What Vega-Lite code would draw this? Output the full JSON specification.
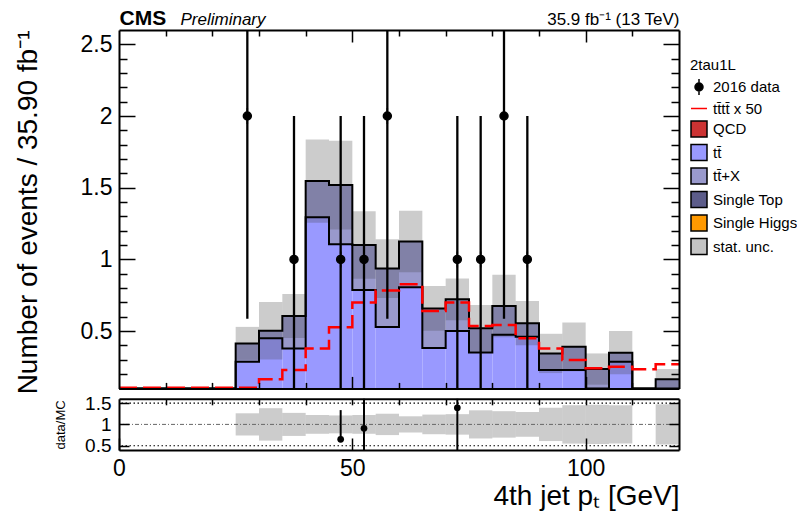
{
  "$schema": "https://vega.github.io/schema/vega-lite/v6.json",
  "width": 560,
  "height": 420,
  "autosize": {"type": "none"},
  "padding": {"left": 119, "top": 30, "right": 118, "bottom": 65},
  "background": "white",
  "config": {
    "view": {"stroke": null},
    "font": "Liberation Sans",
    "axis": {"grid": false, "domainColor": "#000000", "domainWidth": 2, "tickColor": "#000000", "tickWidth": 1.5, "labelColor": "#000000", "titleColor": "#000000", "labelFont": "Liberation Sans", "titleFont": "Liberation Sans", "titleFontWeight": "normal", "zindex": 1, "labelFlush": false}
  },
  "datasets": {
    "bkg": [
      {"lo": 25, "hi": 30, "series": "tt\u0304", "b": 0, "t": 0.286}, {"lo": 25, "hi": 30, "series": "tt\u0304+X", "b": 0.286, "t": 0.414},
      {"lo": 30, "hi": 35, "series": "tt\u0304", "b": 0, "t": 0.449}, {"lo": 30, "hi": 35, "series": "tt\u0304+X", "b": 0.449, "t": 0.502},
      {"lo": 35, "hi": 40, "series": "tt\u0304", "b": 0, "t": 0.379}, {"lo": 35, "hi": 40, "series": "tt\u0304+X", "b": 0.379, "t": 0.605},
      {"lo": 40, "hi": 45, "series": "tt\u0304", "b": 0, "t": 1.293}, {"lo": 40, "hi": 45, "series": "tt\u0304+X", "b": 1.293, "t": 1.546},
      {"lo": 45, "hi": 50, "series": "tt\u0304", "b": 0, "t": 1.106}, {"lo": 45, "hi": 50, "series": "tt\u0304+X", "b": 1.106, "t": 1.518},
      {"lo": 50, "hi": 55, "series": "tt\u0304", "b": 0, "t": 0.786}, {"lo": 50, "hi": 55, "series": "tt\u0304+X", "b": 0.786, "t": 1.100},
      {"lo": 55, "hi": 60, "series": "tt\u0304", "b": 0, "t": 0.528}, {"lo": 55, "hi": 60, "series": "tt\u0304+X", "b": 0.528, "t": 0.936},
      {"lo": 60, "hi": 65, "series": "tt\u0304", "b": 0, "t": 0.805}, {"lo": 60, "hi": 65, "series": "tt\u0304+X", "b": 0.805, "t": 1.125},
      {"lo": 65, "hi": 70, "series": "tt\u0304", "b": 0, "t": 0.382}, {"lo": 65, "hi": 70, "series": "tt\u0304+X", "b": 0.382, "t": 0.658},
      {"lo": 70, "hi": 75, "series": "tt\u0304", "b": 0, "t": 0.500}, {"lo": 70, "hi": 75, "series": "tt\u0304+X", "b": 0.500, "t": 0.721},
      {"lo": 75, "hi": 80, "series": "tt\u0304", "b": 0, "t": 0.351}, {"lo": 75, "hi": 80, "series": "tt\u0304+X", "b": 0.351, "t": 0.519},
      {"lo": 80, "hi": 85, "series": "tt\u0304", "b": 0, "t": 0.475}, {"lo": 80, "hi": 85, "series": "tt\u0304+X", "b": 0.475, "t": 0.674},
      {"lo": 85, "hi": 90, "series": "tt\u0304", "b": 0, "t": 0.460}, {"lo": 85, "hi": 90, "series": "tt\u0304+X", "b": 0.460, "t": 0.555},
      {"lo": 90, "hi": 95, "series": "tt\u0304", "b": 0, "t": 0.228}, {"lo": 90, "hi": 95, "series": "tt\u0304+X", "b": 0.228, "t": 0.344},
      {"lo": 95, "hi": 100, "series": "tt\u0304", "b": 0, "t": 0.228}, {"lo": 95, "hi": 100, "series": "tt\u0304+X", "b": 0.228, "t": 0.390},
      {"lo": 100, "hi": 105, "series": "tt\u0304+X", "b": 0, "t": 0.235},
      {"lo": 105, "hi": 110, "series": "tt\u0304", "b": 0, "t": 0.286}, {"lo": 105, "hi": 110, "series": "tt\u0304+X", "b": 0.286, "t": 0.349},
      {"lo": 115, "hi": 120, "series": "tt\u0304+X", "b": 0, "t": 0.163}
    ],
    "steps": [
      {"x": 0, "tt": 0, "tot": 0}, {"x": 5, "tt": 0, "tot": 0}, {"x": 10, "tt": 0, "tot": 0}, {"x": 15, "tt": 0, "tot": 0}, {"x": 20, "tt": 0, "tot": 0},
      {"x": 25, "tt": 0.286, "tot": 0.414}, {"x": 30, "tt": 0.449, "tot": 0.502}, {"x": 35, "tt": 0.379, "tot": 0.605},
      {"x": 40, "tt": 1.293, "tot": 1.546}, {"x": 45, "tt": 1.106, "tot": 1.518}, {"x": 50, "tt": 0.786, "tot": 1.100},
      {"x": 55, "tt": 0.528, "tot": 0.936}, {"x": 60, "tt": 0.805, "tot": 1.125}, {"x": 65, "tt": 0.382, "tot": 0.658},
      {"x": 70, "tt": 0.500, "tot": 0.721}, {"x": 75, "tt": 0.351, "tot": 0.519}, {"x": 80, "tt": 0.475, "tot": 0.674},
      {"x": 85, "tt": 0.460, "tot": 0.555}, {"x": 90, "tt": 0.228, "tot": 0.344}, {"x": 95, "tt": 0.228, "tot": 0.390},
      {"x": 100, "tt": 0, "tot": 0.235}, {"x": 105, "tt": 0.286, "tot": 0.349}, {"x": 110, "tt": 0, "tot": 0},
      {"x": 115, "tt": 0, "tot": 0.163}, {"x": 120, "tt": 0, "tot": 0.163}
    ],
    "sig": [
      {"x": 0, "s": 0.105}, {"x": 5, "s": 0.105}, {"x": 10, "s": 0.105}, {"x": 15, "s": 0.105}, {"x": 20, "s": 0.105},
      {"x": 25, "s": 0.105}, {"x": 30, "s": 0.163}, {"x": 35, "s": 0.228}, {"x": 40, "s": 0.379}, {"x": 45, "s": 0.526},
      {"x": 50, "s": 0.700}, {"x": 55, "s": 0.783}, {"x": 60, "s": 0.826}, {"x": 65, "s": 0.640}, {"x": 70, "s": 0.700},
      {"x": 75, "s": 0.535}, {"x": 80, "s": 0.542}, {"x": 85, "s": 0.449}, {"x": 90, "s": 0.379}, {"x": 95, "s": 0.298},
      {"x": 100, "s": 0.240}, {"x": 105, "s": 0.251}, {"x": 110, "s": 0.233}, {"x": 115, "s": 0.268}, {"x": 120, "s": 0.268}
    ],
    "unc": [
      {"lo": 25, "hi": 30, "ulo": 0.299, "uhi": 0.529, "rlo": 0.74, "rhi": 1.26},
      {"lo": 30, "hi": 35, "ulo": 0.302, "uhi": 0.702, "rlo": 0.62, "rhi": 1.38},
      {"lo": 35, "hi": 40, "ulo": 0.452, "uhi": 0.758, "rlo": 0.73, "rhi": 1.27},
      {"lo": 40, "hi": 45, "ulo": 1.256, "uhi": 1.836, "rlo": 0.78, "rhi": 1.22},
      {"lo": 45, "hi": 50, "ulo": 1.208, "uhi": 1.828, "rlo": 0.79, "rhi": 1.21},
      {"lo": 50, "hi": 55, "ulo": 0.865, "uhi": 1.335, "rlo": 0.78, "rhi": 1.22},
      {"lo": 55, "hi": 60, "ulo": 0.731, "uhi": 1.141, "rlo": 0.75, "rhi": 1.25},
      {"lo": 60, "hi": 65, "ulo": 0.910, "uhi": 1.340, "rlo": 0.81, "rhi": 1.19},
      {"lo": 65, "hi": 70, "ulo": 0.502, "uhi": 0.814, "rlo": 0.77, "rhi": 1.23},
      {"lo": 70, "hi": 75, "ulo": 0.575, "uhi": 0.867, "rlo": 0.76, "rhi": 1.24},
      {"lo": 75, "hi": 80, "ulo": 0.357, "uhi": 0.681, "rlo": 0.67, "rhi": 1.33},
      {"lo": 80, "hi": 85, "ulo": 0.456, "uhi": 0.892, "rlo": 0.69, "rhi": 1.31},
      {"lo": 85, "hi": 90, "ulo": 0.401, "uhi": 0.709, "rlo": 0.71, "rhi": 1.29},
      {"lo": 90, "hi": 95, "ulo": 0.207, "uhi": 0.481, "rlo": 0.61, "rhi": 1.39},
      {"lo": 95, "hi": 100, "ulo": 0.220, "uhi": 0.560, "rlo": 0.55, "rhi": 1.45},
      {"lo": 100, "hi": 105, "ulo": 0.126, "uhi": 0.344, "rlo": 0.54, "rhi": 1.46},
      {"lo": 105, "hi": 110, "ulo": 0.198, "uhi": 0.500, "rlo": 0.55, "rhi": 1.45},
      {"lo": 115, "hi": 120, "ulo": 0.091, "uhi": 0.235, "rlo": 0.53, "rhi": 1.47}
    ],
    "obs": [
      {"x": 27.5, "n": 2, "lo": 0.586, "hi": 3.414, "series": "2016 data"},
      {"x": 37.5, "n": 1, "lo": 0, "hi": 2, "series": "2016 data"},
      {"x": 47.5, "n": 1, "lo": 0, "hi": 2, "series": "2016 data"},
      {"x": 52.5, "n": 1, "lo": 0, "hi": 2, "series": "2016 data"},
      {"x": 57.5, "n": 2, "lo": 0.586, "hi": 3.414, "series": "2016 data"},
      {"x": 72.5, "n": 1, "lo": 0, "hi": 2, "series": "2016 data"},
      {"x": 77.5, "n": 1, "lo": 0, "hi": 2, "series": "2016 data"},
      {"x": 82.5, "n": 2, "lo": 0.586, "hi": 3.414, "series": "2016 data"},
      {"x": 87.5, "n": 1, "lo": 0, "hi": 2, "series": "2016 data"}
    ],
    "rat": [
      {"x": 47.5, "r": 0.65, "lo": 0.65, "hi": 1.335},
      {"x": 52.5, "r": 0.91, "lo": 0, "hi": 1.82},
      {"x": 72.5, "r": 1.39, "lo": 0, "hi": 2.78}
    ],
    "dummy": [{"x": 60, "y": 1}]
  },
  "layer": [
    {
      "layer": [
        {
          "data": {"name": "bkg"},
          "mark": {"type": "rect"},
          "encoding": {
            "x": {"field": "lo", "type": "quantitative", "scale": {"domain": [0, 120], "nice": false, "zero": false},
                  "axis": {"orient": "bottom", "offset": -61.6, "values": [50, 100], "tickSize": -12, "labels": false, "title": null, "zindex": 1}},
            "x2": {"field": "hi"},
            "y": {"field": "b", "type": "quantitative",
                  "scale": {"domain": [0.1, 2.6], "range": [358.4, 0], "nice": false, "zero": false, "clamp": true},
                  "axis": {"orient": "left", "values": [0.5, 1, 1.5, 2, 2.5], "format": "~g", "tickSize": -16, "labelFontSize": 23, "labelPadding": 23,
                           "title": "Number of events / 35.90 fb\u207b\u00b9", "titleFontSize": 28, "titleAngle": -90, "titleAlign": "right", "titleBaseline": "alphabetic", "titleX": -83, "titleY": 0, "zindex": 1}},
            "y2": {"field": "t"},
            "fill": {"field": "series", "type": "nominal",
                     "scale": {"domain": ["2016 data", "tt\u0304tt\u0304 x 50", "QCD", "tt\u0304", "tt\u0304+X", "Single Top", "Single Higgs", "stat. unc."],
                               "range": ["#000000", "#ff0000", "#cc3333", "#9999ff", "#9999cc", "#5c5c8a", "#ff9900", "#c4c4c4"]},
                     "legend": {"title": "2tau1L", "orient": "none", "legendX": 571, "legendY": 28, "titleFontSize": 15, "titleFontWeight": "normal", "titleColor": "#000000", "titleFont": "Liberation Sans", "labelFontSize": 15, "labelColor": "#000000", "labelFont": "Liberation Sans", "symbolSize": 256, "symbolStrokeWidth": 1.5, "rowPadding": 1.5, "titlePadding": 5, "labelOffset": 5, "padding": 0}}
          }
        },
        {
          "data": {"name": "unc"},
          "mark": {"type": "rect", "color": "#444444", "fillOpacity": 0.27},
          "encoding": {
            "x": {"field": "lo", "type": "quantitative", "scale": {"domain": [0, 120], "nice": false, "zero": false}},
            "x2": {"field": "hi"},
            "y": {"field": "ulo", "type": "quantitative", "scale": {"domain": [0.1, 2.6], "range": [358.4, 0], "nice": false, "zero": false, "clamp": true}},
            "y2": {"field": "uhi"}
          }
        },
        {
          "data": {"name": "steps"},
          "mark": {"type": "line", "interpolate": "step-after", "color": "#000000", "strokeWidth": 2},
          "encoding": {
            "x": {"field": "x", "type": "quantitative", "scale": {"domain": [0, 120], "nice": false, "zero": false}},
            "y": {"field": "tt", "type": "quantitative", "scale": {"domain": [0.1, 2.6], "range": [358.4, 0], "nice": false, "zero": false, "clamp": true}}
          }
        },
        {
          "data": {"name": "steps"},
          "mark": {"type": "line", "interpolate": "step-after", "color": "#000000", "strokeWidth": 2},
          "encoding": {
            "x": {"field": "x", "type": "quantitative", "scale": {"domain": [0, 120], "nice": false, "zero": false}},
            "y": {"field": "tot", "type": "quantitative", "scale": {"domain": [0.1, 2.6], "range": [358.4, 0], "nice": false, "zero": false, "clamp": true}}
          }
        },
        {
          "data": {"name": "sig"},
          "mark": {"type": "line", "interpolate": "step-after", "color": "#ff0000", "strokeWidth": 2.5, "strokeDash": [18, 6]},
          "encoding": {
            "x": {"field": "x", "type": "quantitative", "scale": {"domain": [0, 120], "nice": false, "zero": false}},
            "y": {"field": "s", "type": "quantitative", "scale": {"domain": [0.1, 2.6], "range": [358.4, 0], "nice": false, "zero": false, "clamp": true}}
          }
        },
        {
          "data": {"name": "obs"},
          "mark": {"type": "rule", "color": "#000000", "strokeWidth": 2.3},
          "encoding": {
            "x": {"field": "x", "type": "quantitative", "scale": {"domain": [0, 120], "nice": false, "zero": false}},
            "y": {"field": "lo", "type": "quantitative", "scale": {"domain": [0.1, 2.6], "range": [358.4, 0], "nice": false, "zero": false, "clamp": true}},
            "y2": {"field": "hi"}
          }
        },
        {
          "data": {"name": "obs"},
          "mark": {"type": "point", "filled": true, "size": 256, "strokeWidth": 1.5, "opacity": 1},
          "encoding": {
            "x": {"field": "x", "type": "quantitative", "scale": {"domain": [0, 120], "nice": false, "zero": false}},
            "y": {"field": "n", "type": "quantitative", "scale": {"domain": [0.1, 2.6], "range": [358.4, 0], "nice": false, "zero": false, "clamp": true}},
            "fill": {"field": "series", "type": "nominal",
                     "scale": {"domain": ["2016 data", "tt\u0304tt\u0304 x 50", "QCD", "tt\u0304", "tt\u0304+X", "Single Top", "Single Higgs", "stat. unc."],
                               "range": ["#000000", "#ff0000", "#cc3333", "#9999ff", "#9999cc", "#5c5c8a", "#ff9900", "#c4c4c4"]},
                     "legend": {"title": "2tau1L", "orient": "none", "legendX": 571, "legendY": 28, "titleFontSize": 15, "titleFontWeight": "normal", "titleColor": "#000000", "titleFont": "Liberation Sans", "labelFontSize": 15, "labelColor": "#000000", "labelFont": "Liberation Sans", "symbolSize": 256, "symbolStrokeWidth": 1.5, "rowPadding": 1.5, "titlePadding": 5, "labelOffset": 5, "padding": 0}},
            "stroke": {"field": "series", "type": "nominal",
                       "scale": {"domain": ["2016 data", "tt\u0304tt\u0304 x 50", "QCD", "tt\u0304", "tt\u0304+X", "Single Top", "Single Higgs", "stat. unc."],
                                 "range": ["#000000", "#ff0000", "#000000", "#000000", "#000000", "#000000", "#000000", "#000000"]},
                       "legend": {"title": "2tau1L", "orient": "none", "legendX": 571, "legendY": 28, "titleFontSize": 15, "titleFontWeight": "normal", "titleColor": "#000000", "titleFont": "Liberation Sans", "labelFontSize": 15, "labelColor": "#000000", "labelFont": "Liberation Sans", "symbolSize": 256, "symbolStrokeWidth": 1.5, "rowPadding": 1.5, "titlePadding": 5, "labelOffset": 5, "padding": 0}},
            "shape": {"field": "series", "type": "nominal",
                      "scale": {"domain": ["2016 data", "tt\u0304tt\u0304 x 50", "QCD", "tt\u0304", "tt\u0304+X", "Single Top", "Single Higgs", "stat. unc."],
                                "range": ["M0,-1L0,1M-0.5,0A0.5,0.5 0 1,0 0.5,0A0.5,0.5 0 1,0 -0.5,0Z", "stroke", "square", "square", "square", "square", "square", "square"]},
                      "legend": {"title": "2tau1L", "orient": "none", "legendX": 571, "legendY": 28, "titleFontSize": 15, "titleFontWeight": "normal", "titleColor": "#000000", "titleFont": "Liberation Sans", "labelFontSize": 15, "labelColor": "#000000", "labelFont": "Liberation Sans", "symbolSize": 256, "symbolStrokeWidth": 1.5, "rowPadding": 1.5, "titlePadding": 5, "labelOffset": 5, "padding": 0}}
          }
        }
      ]
    },
    {
      "layer": [
        {
          "data": {"name": "unc"},
          "mark": {"type": "rect", "color": "#555555", "fillOpacity": 0.3},
          "encoding": {
            "x": {"field": "lo", "type": "quantitative", "scale": {"domain": [0, 120], "nice": false, "zero": false},
                  "axis": {"orient": "bottom", "values": [0, 50, 100], "format": "d", "tickSize": -12, "labelFontSize": 23, "labelPadding": 19, "labelFlush": false,
                           "title": "4th jet p\u209c [GeV]", "titleFontSize": 28, "titleAnchor": "end", "titleAlign": "right", "titleBaseline": "alphabetic", "titleX": 560, "titleY": 54, "zindex": 1}},
            "x2": {"field": "hi"},
            "y": {"field": "rlo", "type": "quantitative", "scale": {"domain": [0.4, 1.6], "range": [420, 368.8], "nice": false, "zero": false, "clamp": true},
                  "axis": {"orient": "left", "values": [0.5, 1, 1.5], "format": "~g", "tickSize": -10, "labelFontSize": 19, "labelPadding": 18, "title": "data/MC", "titleFontSize": 13, "titleX": -52, "zindex": 1}},
            "y2": {"field": "rhi"}
          }
        },
        {
          "data": {"values": [{"ref": 0.5}, {"ref": 1.5}]},
          "mark": {"type": "rule", "color": "#000000", "strokeWidth": 1.2, "strokeDash": [1.5, 2.5]},
          "encoding": {
            "y": {"field": "ref", "type": "quantitative", "scale": {"domain": [0.4, 1.6], "range": [420, 368.8], "nice": false, "zero": false, "clamp": true}}
          }
        },
        {
          "data": {"values": [{"ref": 1}]},
          "mark": {"type": "rule", "color": "#666666", "strokeWidth": 1, "strokeDash": [4, 2, 1, 2]},
          "encoding": {
            "y": {"field": "ref", "type": "quantitative", "scale": {"domain": [0.4, 1.6], "range": [420, 368.8], "nice": false, "zero": false, "clamp": true}}
          }
        },
        {
          "data": {"name": "rat"},
          "mark": {"type": "rule", "color": "#000000", "strokeWidth": 2},
          "encoding": {
            "x": {"field": "x", "type": "quantitative", "scale": {"domain": [0, 120], "nice": false, "zero": false}},
            "y": {"field": "lo", "type": "quantitative", "scale": {"domain": [0.4, 1.6], "range": [420, 368.8], "nice": false, "zero": false, "clamp": true}},
            "y2": {"field": "hi"}
          }
        },
        {
          "data": {"name": "rat"},
          "mark": {"type": "circle", "color": "#000000", "size": 45, "opacity": 1},
          "encoding": {
            "x": {"field": "x", "type": "quantitative", "scale": {"domain": [0, 120], "nice": false, "zero": false}},
            "y": {"field": "r", "type": "quantitative", "scale": {"domain": [0.4, 1.6], "range": [420, 368.8], "nice": false, "zero": false, "clamp": true}}
          }
        }
      ]
    },
    {
      "data": {"name": "dummy"},
      "mark": {"type": "point", "opacity": 0},
      "encoding": {
        "x": {"field": "x", "type": "quantitative", "scale": {"domain": [0, 120], "nice": false, "zero": false},
              "axis": {"orient": "top", "values": [50, 100], "tickSize": -12, "labels": false, "title": "35.9 fb\u207b\u00b9 (13 TeV)", "titleFontSize": 17, "titleAnchor": "end", "titleAlign": "right", "titleBaseline": "alphabetic", "titleX": 560, "titleY": -6, "zindex": 1}},
        "y": {"field": "y", "type": "quantitative", "scale": {"domain": [0.1, 2.6], "range": [358.4, 0], "nice": false, "zero": false, "clamp": true},
              "axis": {"orient": "right", "values": [0.5, 1, 1.5, 2, 2.5], "tickSize": -16, "labels": false, "title": "Preliminary", "titleFontSize": 17, "titleFontStyle": "italic", "titleAngle": 0, "titleAlign": "left", "titleBaseline": "alphabetic", "titleX": -499, "titleY": -6, "zindex": 1}}
      }
    },
    {
      "data": {"name": "dummy"},
      "mark": {"type": "point", "opacity": 0},
      "encoding": {
        "x": {"field": "x", "type": "quantitative", "scale": {"domain": [0, 120], "nice": false, "zero": false},
              "axis": {"orient": "bottom", "offset": -61.6, "values": [10, 20, 30, 40, 60, 70, 80, 90, 110], "tickSize": -6, "labels": false, "domain": false, "title": null, "zindex": 1}},
        "y": {"field": "y", "type": "quantitative", "scale": {"domain": [0.1, 2.6], "range": [358.4, 0], "nice": false, "zero": false, "clamp": true},
              "axis": {"orient": "left", "values": [0.2, 0.3, 0.4, 0.6, 0.7, 0.8, 0.9, 1.1, 1.2, 1.3, 1.4, 1.6, 1.7, 1.8, 1.9, 2.1, 2.2, 2.3, 2.4], "tickSize": -8, "labels": false, "domain": false, "title": null, "zindex": 1}}
      }
    },
    {
      "data": {"name": "dummy"},
      "mark": {"type": "point", "opacity": 0},
      "encoding": {
        "x": {"field": "x", "type": "quantitative", "scale": {"domain": [0, 120], "nice": false, "zero": false},
              "axis": {"orient": "top", "values": [10, 20, 30, 40, 60, 70, 80, 90, 110], "tickSize": -6, "labels": false, "domain": false, "title": "CMS", "titleFontSize": 21, "titleFontWeight": "bold", "titleAnchor": "start", "titleAlign": "left", "titleBaseline": "alphabetic", "titleX": 0, "titleY": -6, "zindex": 1}},
        "y": {"field": "y", "type": "quantitative", "scale": {"domain": [0.1, 2.6], "range": [358.4, 0], "nice": false, "zero": false, "clamp": true},
              "axis": {"orient": "right", "values": [0.2, 0.3, 0.4, 0.6, 0.7, 0.8, 0.9, 1.1, 1.2, 1.3, 1.4, 1.6, 1.7, 1.8, 1.9, 2.1, 2.2, 2.3, 2.4], "tickSize": -8, "labels": false, "domain": false, "title": null, "zindex": 1}}
      }
    },
    {
      "data": {"name": "dummy"},
      "mark": {"type": "point", "opacity": 0},
      "encoding": {
        "x": {"field": "x", "type": "quantitative", "scale": {"domain": [0, 120], "nice": false, "zero": false},
              "axis": {"orient": "top", "offset": -368.8, "values": [10, 20, 30, 40, 50, 60, 70, 80, 90, 100, 110], "tickSize": -6, "labels": false, "title": null, "zindex": 1}},
        "y": {"field": "y", "type": "quantitative", "scale": {"domain": [0.4, 1.6], "range": [420, 368.8], "nice": false, "zero": false, "clamp": true},
              "axis": {"orient": "right", "values": [0.5, 1, 1.5], "tickSize": -10, "labels": false, "title": null, "zindex": 1}}
      }
    }
  ],
  "resolve": {"scale": {"x": "independent", "y": "independent"}, "axis": {"x": "independent", "y": "independent"}}
}
